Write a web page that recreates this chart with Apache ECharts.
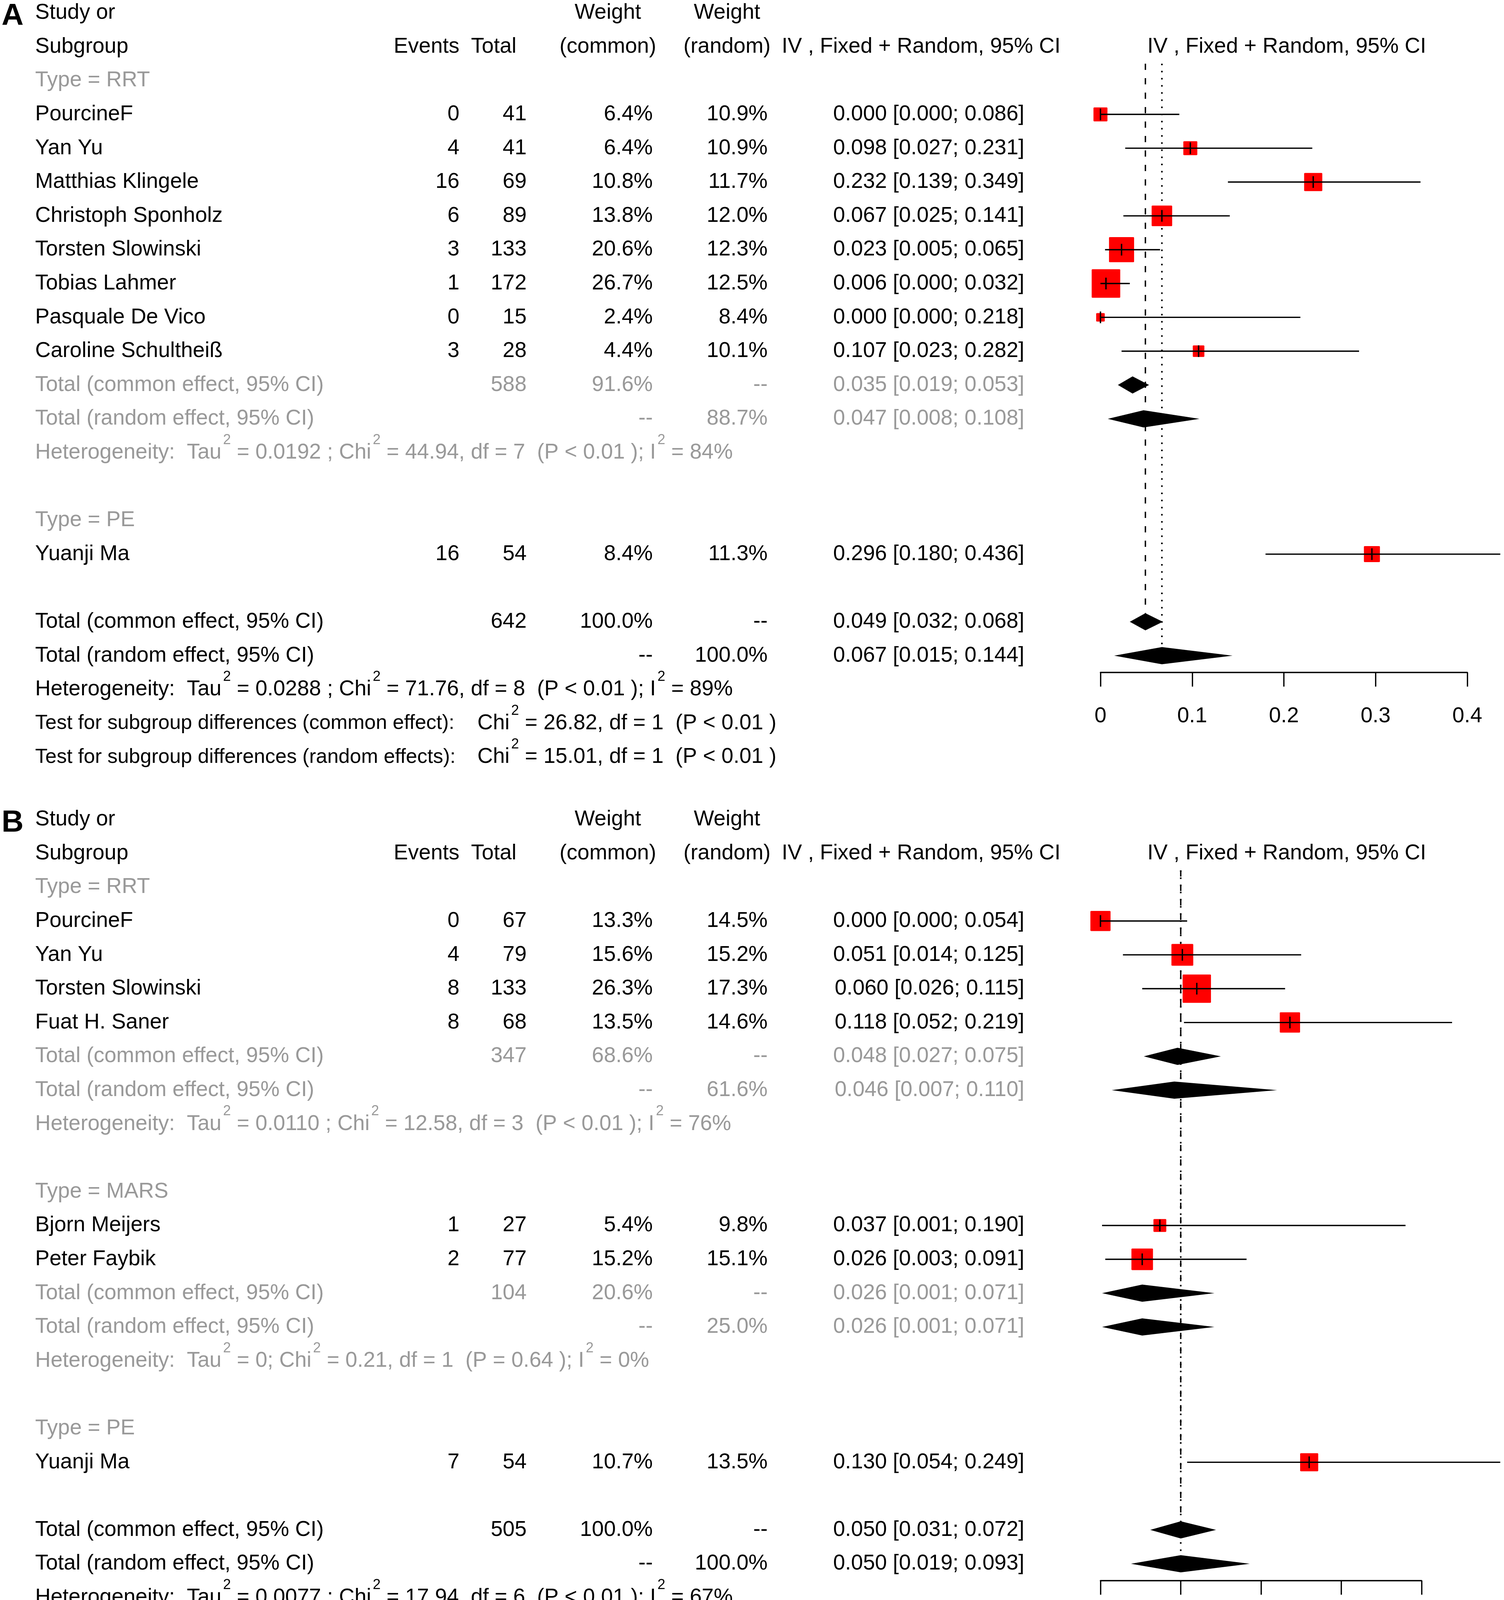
<!DOCTYPE html>
<html><head><meta charset="utf-8">
<script src="https://cdn.jsdelivr.net/npm/echarts/dist/echarts.min.js"></script>
<style>html,body{margin:0;padding:0;background:#fff}#c{width:3850px;height:4299px}</style>
</head><body><div id="c"></div>
<script>
// ================= DATA : Panel A =================
const A_studies  = ['PourcineF','Yan Yu','Matthias Klingele','Christoph Sponholz','Torsten Slowinski','Tobias Lahmer','Pasquale De Vico','Caroline Schultheiß','Yuanji Ma'];
const A_group    = ['RRT','RRT','RRT','RRT','RRT','RRT','RRT','RRT','PE'];
const A_events   = [0,4,16,6,3,1,0,3,16];
const A_total    = [41,41,69,89,133,172,15,28,54];
const A_wCommon  = [6.4,6.4,10.8,13.8,20.6,26.7,2.4,4.4,8.4];
const A_wRandom  = [10.9,10.9,11.7,12.0,12.3,12.5,8.4,10.1,11.3];
const A_est      = [0.000,0.098,0.232,0.067,0.023,0.006,0.000,0.107,0.296];
const A_lo       = [0.000,0.027,0.139,0.025,0.005,0.000,0.000,0.023,0.180];
const A_hi       = [0.086,0.231,0.349,0.141,0.065,0.032,0.218,0.282,0.436];
const A_subgroups   = ['RRT','PE'];
const A_subTotal    = [588,null];
const A_subWCommon  = [91.6,null];
const A_subWRandom  = [88.7,null];
const A_subCommon   = [[0.035,0.019,0.053],null];
const A_subRandom   = [[0.047,0.008,0.108],null];
const A_subHet      = [['0.0192','44.94',7,'< 0.01','84%'],null];
const A_allTotal    = 642;
const A_allCommon   = [0.049,0.032,0.068];
const A_allRandom   = [0.067,0.015,0.144];
const A_allHet      = ['0.0288','71.76',8,'< 0.01','89%'];
const A_testCommon  = ['26.82',1,'< 0.01'];
const A_testRandom  = ['15.01',1,'< 0.01'];
const A_ticks       = [0,0.1,0.2,0.3,0.4];

// ================= DATA : Panel B =================
const B_studies  = ['PourcineF','Yan Yu','Torsten Slowinski','Fuat H. Saner','Bjorn Meijers','Peter Faybik','Yuanji Ma'];
const B_group    = ['RRT','RRT','RRT','RRT','MARS','MARS','PE'];
const B_events   = [0,4,8,8,1,2,7];
const B_total    = [67,79,133,68,27,77,54];
const B_wCommon  = [13.3,15.6,26.3,13.5,5.4,15.2,10.7];
const B_wRandom  = [14.5,15.2,17.3,14.6,9.8,15.1,13.5];
const B_est      = [0.000,0.051,0.060,0.118,0.037,0.026,0.130];
const B_lo       = [0.000,0.014,0.026,0.052,0.001,0.003,0.054];
const B_hi       = [0.054,0.125,0.115,0.219,0.190,0.091,0.249];
const B_subgroups   = ['RRT','MARS','PE'];
const B_subTotal    = [347,104,null];
const B_subWCommon  = [68.6,20.6,null];
const B_subWRandom  = [61.6,25.0,null];
const B_subCommon   = [[0.048,0.027,0.075],[0.026,0.001,0.071],null];
const B_subRandom   = [[0.046,0.007,0.110],[0.026,0.001,0.071],null];
const B_subHet      = [['0.0110','12.58',3,'< 0.01','76%'],['0','0.21',1,'= 0.64','0%'],null];
const B_allTotal    = 505;
const B_allCommon   = [0.050,0.031,0.072];
const B_allRandom   = [0.050,0.019,0.093];
const B_allHet      = ['0.0077','17.94',6,'< 0.01','67%'];
const B_testCommon  = ['5.15',2,'= 0.08'];
const B_testRandom  = ['5.08',2,'= 0.08'];
const B_ticks       = [0,0.05,0.1,0.15,0.2];

// ================= STYLE / LAYOUT =================
const FONT = '"Liberation Sans", Arial, sans-serif';
const FS = 55;
const FS_TEST = 52;
const GREY = '#999999';
const ROW = 86.6;
const COL = {name:90, events:1176, total:1348, totalHead:1322, wc:1671, wcHead:1556, wr:1965, wrHead:1861,
             ci:2622, ciHead:2001, plotHead:2937, stat:1222};
const PLOT_LEFT = 2817;
const PANELS_LAYOUT = [{top:33, plotW:939, letter:'A'}, {top:2098, plotW:822, letter:'B'}];
const SQ_K = 14.15;      // square side = SQ_K * sqrt(weight)
const DIA_H = 22;        // diamond half height px
const TICK_H = 15;
const SUP = {fontSize:36, fontFamily:FONT, padding:[0,0,64,4]};

const PANELS = [
 {studies:A_studies, group:A_group, events:A_events, total:A_total, wc:A_wCommon, wr:A_wRandom, est:A_est, lo:A_lo, hi:A_hi,
  subgroups:A_subgroups, subTotal:A_subTotal, subWc:A_subWCommon, subWr:A_subWRandom, subCommon:A_subCommon, subRandom:A_subRandom, subHet:A_subHet,
  allTotal:A_allTotal, allCommon:A_allCommon, allRandom:A_allRandom, allHet:A_allHet, testCommon:A_testCommon, testRandom:A_testRandom, ticks:A_ticks},
 {studies:B_studies, group:B_group, events:B_events, total:B_total, wc:B_wCommon, wr:B_wRandom, est:B_est, lo:B_lo, hi:B_hi,
  subgroups:B_subgroups, subTotal:B_subTotal, subWc:B_subWCommon, subWr:B_subWRandom, subCommon:B_subCommon, subRandom:B_subRandom, subHet:B_subHet,
  allTotal:B_allTotal, allCommon:B_allCommon, allRandom:B_allRandom, allHet:B_allHet, testCommon:B_testCommon, testRandom:B_testRandom, ticks:B_ticks}
];

const pct = v => v.toFixed(1) + '%';
const ciTxt = a => a[0].toFixed(3) + ' [' + a[1].toFixed(3) + '; ' + a[2].toFixed(3) + ']';
const hetTxt = h => 'Heterogeneity:  Tau{s|2} = ' + h[0] + (h[0] === '0' ? '; ' : ' ; ') + 'Chi{s|2} = ' + h[1] + ', df = ' + h[2] +
                    '  (P ' + h[3] + ' ); I{s|2} = ' + h[4];
const testTxt = t => 'Chi{s|2} = ' + t[0] + ', df = ' + t[1] + '  (P ' + t[2] + ' )';

function L(x,t,fs){return {x, t, a:'left', fs};}
function R(x,t){return {x, t, a:'right'};}
function C(x,t){return {x, t, a:'center'};}

function buildPanel(P){
  const rows = [], marks = [], diamonds = [];
  rows.push({row:0, cells:[L(COL.name,'Study or'), C(COL.wcHead,'Weight'), C(COL.wrHead,'Weight')]});
  rows.push({row:1, cells:[L(COL.name,'Subgroup'), R(COL.events,'Events'), R(COL.totalHead,'Total'), C(COL.wcHead,'(common)'),
                           C(COL.wrHead,'(random)'), L(COL.ciHead,'IV , Fixed + Random, 95% CI'), L(COL.plotHead,'IV , Fixed + Random, 95% CI')]});
  let r = 2;
  P.subgroups.forEach((g, gi) => {
    rows.push({row:r, grey:true, cells:[L(COL.name,'Type = ' + g)]}); r++;
    P.studies.forEach((s, i) => {
      if (P.group[i] !== g) return;
      rows.push({row:r, cells:[L(COL.name,s), R(COL.events,String(P.events[i])), R(COL.total,String(P.total[i])),
        R(COL.wc,pct(P.wc[i])), R(COL.wr,pct(P.wr[i])), R(COL.ci,ciTxt([P.est[i],P.lo[i],P.hi[i]]))]});
      marks.push([P.est[i], r, P.lo[i], P.hi[i], P.wc[i]]);
      r++;
    });
    if (P.subTotal[gi] != null){
      rows.push({row:r, grey:true, cells:[L(COL.name,'Total (common effect, 95% CI)'), R(COL.total,String(P.subTotal[gi])),
        R(COL.wc,pct(P.subWc[gi])), R(COL.wr,'--'), R(COL.ci,ciTxt(P.subCommon[gi]))]});
      diamonds.push([P.subCommon[gi][0], r, P.subCommon[gi][1], P.subCommon[gi][2]]); r++;
      rows.push({row:r, grey:true, cells:[L(COL.name,'Total (random effect, 95% CI)'), R(COL.wc,'--'),
        R(COL.wr,pct(P.subWr[gi])), R(COL.ci,ciTxt(P.subRandom[gi]))]});
      diamonds.push([P.subRandom[gi][0], r, P.subRandom[gi][1], P.subRandom[gi][2]]); r++;
      rows.push({row:r, grey:true, cells:[L(COL.name,hetTxt(P.subHet[gi]))]}); r++;
    }
    r++;
  });
  const commonRow = r;
  rows.push({row:r, cells:[L(COL.name,'Total (common effect, 95% CI)'), R(COL.total,String(P.allTotal)),
    R(COL.wc,'100.0%'), R(COL.wr,'--'), R(COL.ci,ciTxt(P.allCommon))]});
  diamonds.push([P.allCommon[0], r, P.allCommon[1], P.allCommon[2]]); r++;
  const randomRow = r;
  rows.push({row:r, cells:[L(COL.name,'Total (random effect, 95% CI)'), R(COL.wc,'--'),
    R(COL.wr,'100.0%'), R(COL.ci,ciTxt(P.allRandom))]});
  diamonds.push([P.allRandom[0], r, P.allRandom[1], P.allRandom[2]]); r++;
  rows.push({row:r, cells:[L(COL.name,hetTxt(P.allHet))]}); r++;
  rows.push({row:r, cells:[L(COL.name,'Test for subgroup differences (common effect):',FS_TEST), L(COL.stat,testTxt(P.testCommon))]}); r++;
  rows.push({row:r, cells:[L(COL.name,'Test for subgroup differences (random effects):',FS_TEST), L(COL.stat,testTxt(P.testRandom))]});
  const lines = [[P.allCommon[0], 1.5, commonRow, 'dashed'], [P.allRandom[0], 1.5, randomRow, 'dotted']];
  return {rows, marks, diamonds, lines, lastRow:r, axisRow: randomRow + 0.5};
}

const grids = [], xAxes = [], yAxes = [], series = [], graphics = [];
PANELS.forEach((P, pi) => {
  const LY = PANELS_LAYOUT[pi];
  const B = buildPanel(P);
  const tg = grids.length;
  grids.push({left:0, top:LY.top, width:3850, height:B.lastRow*ROW, containLabel:false, outerBoundsMode:'none'});
  xAxes.push({gridIndex:tg, type:'value', min:0, max:1, show:false});
  yAxes.push({gridIndex:tg, type:'value', inverse:true, min:0, max:B.lastRow, show:false});
  const fg = grids.length;
  grids.push({left:PLOT_LEFT, top:LY.top, width:LY.plotW, height:B.axisRow*ROW, containLabel:false, outerBoundsMode:'none'});
  const t = P.ticks;
  xAxes.push({gridIndex:fg, type:'value', min:t[0], max:t[t.length-1], interval:t[1]-t[0],
    axisLine:{show:true, onZero:false, lineStyle:{color:'#000', width:3.3}},
    axisTick:{show:true, inside:false, length:36, lineStyle:{color:'#000', width:3.3}},
    axisLabel:{show:true, fontSize:FS, fontFamily:FONT, color:'#000', margin:85},
    splitLine:{show:false}});
  yAxes.push({gridIndex:fg, type:'value', inverse:true, min:0, max:B.axisRow, show:false});

  // table text
  const rows = B.rows;
  series.push({type:'custom', xAxisIndex:tg, yAxisIndex:tg, silent:true, animation:false, clip:false,
    data: rows.map((rw, i) => [0, rw.row, i]),
    renderItem(params, api){
      const rw = rows[api.value(2)];
      const y = api.coord([0, rw.row])[1];
      const col = rw.grey ? GREY : '#000';
      return {type:'group', children: rw.cells.map(c => ({type:'text', x:c.x, y:y,
        style:{text:c.t, fill:col, fontSize:c.fs || FS, fontFamily:FONT, align:c.a, verticalAlign:'middle',
               rich:{s:Object.assign({}, SUP, {fill:col})}}}))};
    }});
  // reference lines
  series.push({type:'custom', xAxisIndex:fg, yAxisIndex:fg, silent:true, animation:false, clip:false,
    data: B.lines,
    renderItem(params, api){
      const a = api.coord([api.value(0), api.value(1)]);
      const b = api.coord([api.value(0), api.value(2)]);
      const dotted = B.lines[params.dataIndex][3] === 'dotted';
      return {type:'line', shape:{x1:a[0], y1:a[1], x2:b[0], y2:b[1] - DIA_H},
        style:{stroke:'#000', lineWidth: dotted ? 4 : 3.5, lineDash: dotted ? [4,14.3] : [16,21]}};
    }});
  // study squares + CI
  series.push({type:'custom', xAxisIndex:fg, yAxisIndex:fg, silent:true, animation:false, clip:false,
    data: B.marks,
    renderItem(params, api){
      const row = api.value(1);
      const c = api.coord([api.value(0), row]);
      const pl = api.coord([api.value(2), row]);
      const ph = api.coord([api.value(3), row]);
      const s = SQ_K * Math.sqrt(api.value(4));
      return {type:'group', children:[
        {type:'rect', shape:{x:c[0]-s/2, y:c[1]-s/2, width:s, height:s, r:2}, style:{fill:'#ff0000'}},
        {type:'line', shape:{x1:pl[0], y1:c[1], x2:ph[0], y2:c[1]}, style:{stroke:'#000', lineWidth:3.4}},
        {type:'line', shape:{x1:c[0], y1:c[1]-TICK_H, x2:c[0], y2:c[1]+TICK_H}, style:{stroke:'#000', lineWidth:3.6}}
      ]};
    }});
  // diamonds
  series.push({type:'custom', xAxisIndex:fg, yAxisIndex:fg, silent:true, animation:false, clip:false,
    data: B.diamonds,
    renderItem(params, api){
      const row = api.value(1);
      const c = api.coord([api.value(0), row]);
      const pl = api.coord([api.value(2), row]);
      const ph = api.coord([api.value(3), row]);
      return {type:'polygon', shape:{points:[[pl[0], c[1]], [c[0], c[1]-DIA_H], [ph[0], c[1]], [c[0], c[1]+DIA_H]]},
        style:{fill:'#000'}};
    }});
  graphics.push({type:'text', left:4, top:LY.top - 30, style:{text:LY.letter, fontSize:78, fontWeight:'bold', fontFamily:FONT, fill:'#000'}});
});

const chart = echarts.init(document.getElementById('c'), null, {renderer:'canvas'});
chart.setOption({animation:false, backgroundColor:'#fff', grid:grids, xAxis:xAxes, yAxis:yAxes, series, graphic:graphics});
</script></body></html>
